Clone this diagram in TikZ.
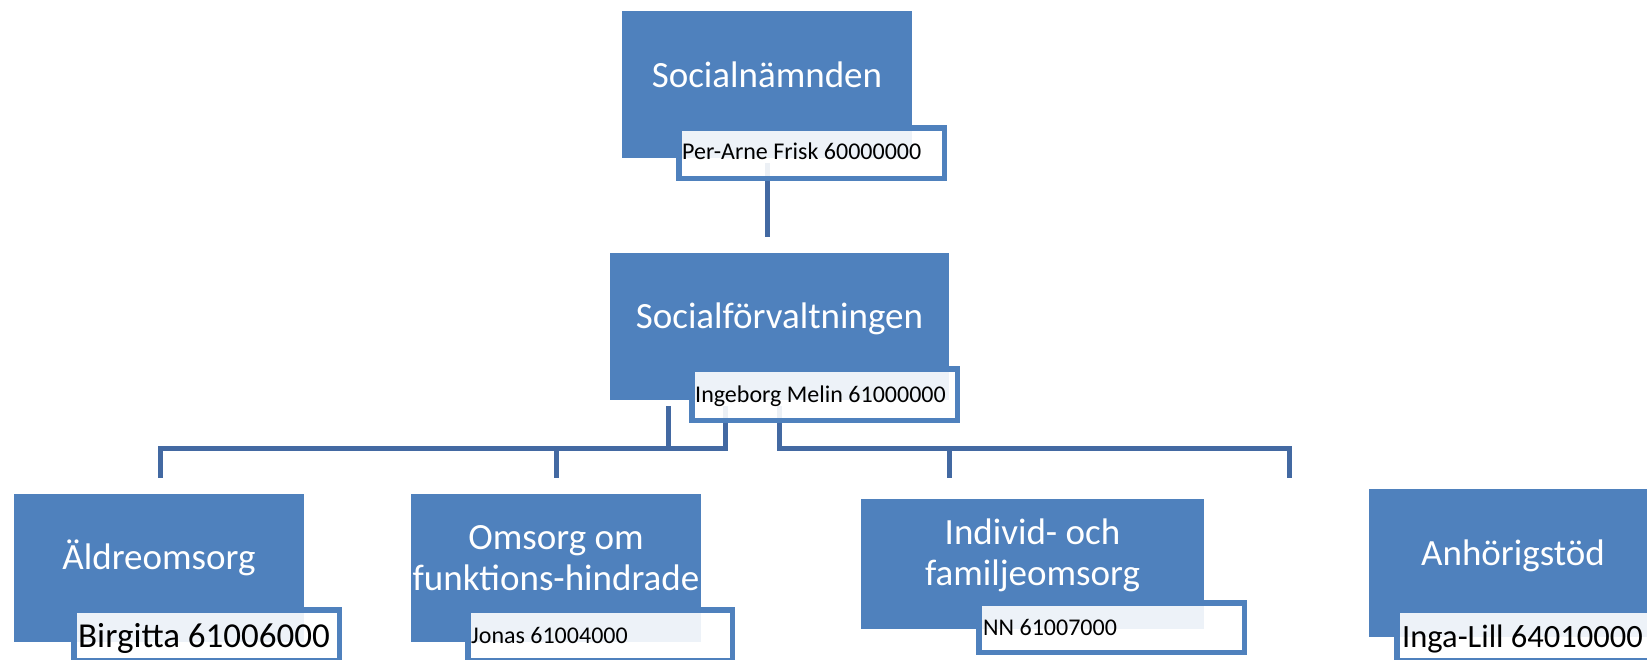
\documentclass[tikz,border=0pt]{standalone}
\usepackage{fontspec}
\setmainfont{Carlito}
\usetikzlibrary{calc}
\definecolor{boxblue}{HTML}{4F81BD}
\definecolor{lineblue}{HTML}{4369A2}
\pgfdeclarelayer{bg}
\pgfsetlayers{bg,main}
\tikzset{
  unitbox/.style={fill=boxblue, draw=none, inner sep=0pt},
  tbox/.style={draw=boxblue, line width=5.5pt, fill=white, fill opacity=0.9, draw opacity=1, inner sep=0pt},
  headtxt/.style={text=white, font=\fontsize{37pt}{41pt}\selectfont, inner sep=0pt, anchor=base, align=center},
  smalltxt/.style={text=black, font=\fontsize{24pt}{28pt}\selectfont, inner sep=0pt, anchor=base west},
  bigtxt/.style={text=black, font=\fontsize{35pt}{40pt}\selectfont, inner sep=0pt, anchor=base west},
  conn/.style={draw=lineblue, line width=5pt},
}
\begin{document}
\begin{tikzpicture}[x=1pt,y=-1pt]
\useasboundingbox (0,0) rectangle (1647,659);
\clip (0,0) rectangle (1647,659);

% unit boxes
\node[unitbox, minimum width=290, minimum height=147] (sn) at (767,84.5) {};
\node[unitbox, minimum width=339, minimum height=147] (sf) at (779.5,326.5) {};
\node[unitbox, minimum width=290, minimum height=148] (al) at (159,568) {};
\node[unitbox, minimum width=290, minimum height=148] (om) at (556,568) {};
\node[unitbox, minimum width=343, minimum height=130] (iv) at (1032.5,564) {};
\node[unitbox, minimum width=288, minimum height=148] (an) at (1513,563) {};

% headings
\node[headtxt] (snt) at (767,87) {Socialnämnden};
\node[headtxt] (sft) at (779.5,328) {Socialförvaltningen};
\node[headtxt] (alt) at (159,569) {Äldreomsorg};
\node[headtxt] (omt) at (556,590) {Omsorg om\\funktions-hindrade};
\node[headtxt] (ivt) at (1032.5,585) {Individ- och\\familjeomsorg};
\node[headtxt] (ant) at (1513,565) {Anhörigstöd};

% name boxes
\node[tbox, minimum width=265.5, minimum height=50.5] (pa) at (811.5,153) {};
\node[tbox, minimum width=265.5, minimum height=51.5] (ib) at (824.5,394.5) {};
\node[tbox, minimum width=265.5, minimum height=50.5] (bi) at (206.5,635) {};
\node[tbox, minimum width=264.5, minimum height=50.5] (jo) at (600,635) {};
\node[tbox, minimum width=265.5, minimum height=49.5] (nn) at (1111.5,627.5) {};
\node[tbox, minimum width=265.5, minimum height=50.5] (il) at (1529.5,635) {};

\node[smalltxt] (pat) at (682,159) {Per-Arne Frisk 60000000};
\node[smalltxt] (ibt) at (695,402) {Ingeborg Melin 61000000};
\node[bigtxt]   (bit) at (78,647) {Birgitta 61006000};
\node[smalltxt] (jot) at (471,643) {Jonas 61004000};
\node[smalltxt] (nnt) at (983,635) {NN 61007000};
\node[bigtxt, font=\fontsize{32.5pt}{38pt}\selectfont] (ilt) at (1402,647) {Inga-Lill 64010000};

% connectors
\coordinate (a0) at (767.5,163);
\coordinate (a1) at (767.5,237);
\coordinate (l0) at (668.5,406);
\coordinate (l1) at (668.5,448);
\coordinate (m0) at (725.5,406);
\coordinate (m1) at (725.5,448);
\coordinate (h0) at (160,448);
\coordinate (h1) at (160,478);
\coordinate (o0) at (556,448);
\coordinate (o1) at (556,478);
\coordinate (r0) at (779.5,406);
\coordinate (r1) at (779.5,448);
\coordinate (e0) at (1289.5,448);
\coordinate (e1) at (1289.5,478);
\coordinate (i0) at (949.5,448);
\coordinate (i1) at (949.5,478);

\begin{pgfonlayer}{bg}
\fill[white] (0,0) rectangle (1647,659);
\draw[conn] (a0) -- (a1);
\draw[conn] (l0) -- (l1);
\draw[conn] (m0) -- (m1) -- (h0) -- (h1);
\draw[conn] (o0) -- (o1);
\draw[conn] (r0) -- (r1) -- (e0) -- (e1);
\draw[conn] (i0) -- (i1);
\end{pgfonlayer}
\end{tikzpicture}
\end{document}
